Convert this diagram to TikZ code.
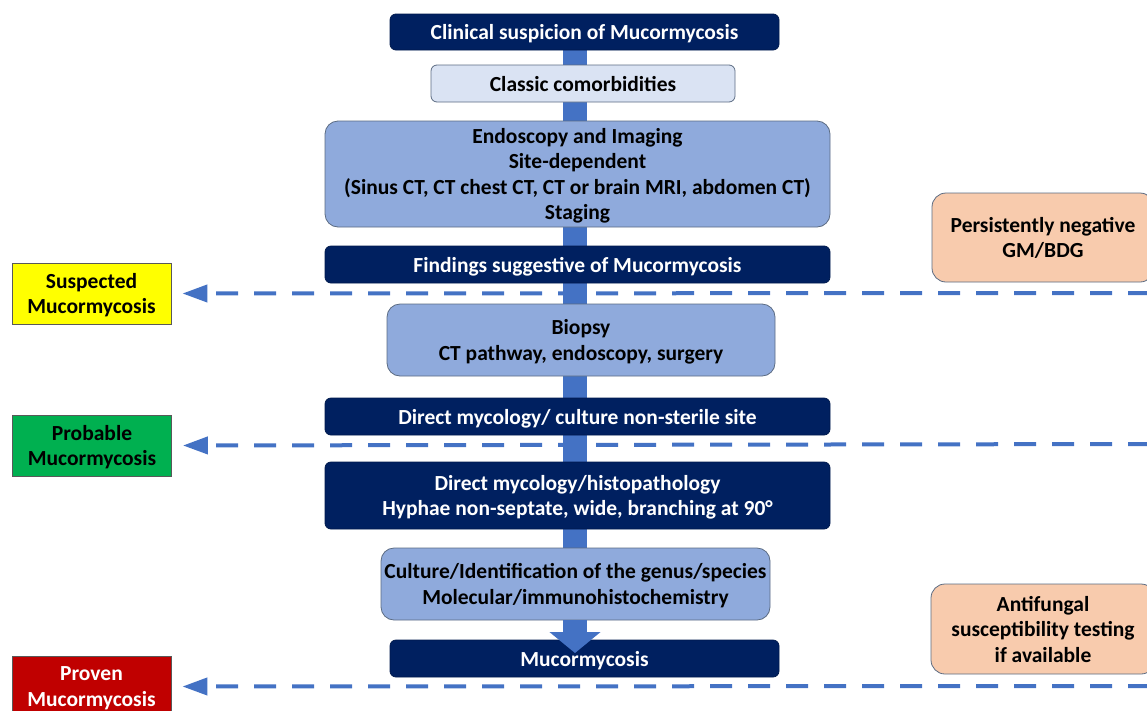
\documentclass[tikz,border=0pt]{standalone}
\usepackage{fontspec}
\setmainfont{Carlito}
\usetikzlibrary{arrows.meta,calc}
\definecolor{navy}{HTML}{002060}
\definecolor{lblue}{HTML}{8FAADC}
\definecolor{pblue}{HTML}{DAE3F3}
\definecolor{barblue}{HTML}{4472C4}
\definecolor{bordgray}{HTML}{5B6B82}
\definecolor{peach}{HTML}{F8CBAD}
\definecolor{ygreen}{HTML}{00B050}
\definecolor{dred}{HTML}{C00000}
\definecolor{yel}{HTML}{FFFF00}
\begin{document}
\begin{tikzpicture}[x=1pt,y=-1pt,
  every node/.style={font=\fontsize{21.5}{25.5}\selectfont\bfseries, align=center, inner sep=0pt, text depth=0pt},
  navybox/.style={fill=navy, draw=navy!80!black, line width=0.8pt, rounded corners=6pt, text=white},
  lightbox/.style={fill=lblue, draw=bordgray, line width=0.8pt, rounded corners=13pt, text=black},
  palebox/.style={fill=pblue, draw=bordgray, line width=0.8pt, rounded corners=6pt, text=black},
  peachbox/.style={fill=peach, draw=bordgray, line width=0.8pt, rounded corners=14pt, text=black},
  catbox/.style={draw=black!65, line width=0.8pt, minimum width=159pt, minimum height=61pt},
  dashline/.style={draw=barblue, line width=4pt, dash pattern=on 22pt off 16pt, shorten >=11pt, -{Triangle[length=25pt,width=17pt]}},
  bar/.style={draw=barblue, line width=24pt}
]
\useasboundingbox (0,0) rectangle (1147,710);
\begin{scope}
\clip (0,0) rectangle (1147,710);
% coordinates
\coordinate (bartop) at (575,50);
\coordinate (barbot) at (575,620);
\coordinate (tip) at (575,653);
\coordinate (r1) at (1150,293);
\coordinate (r2) at (1150,444);
\coordinate (r3) at (1150,686);
% left category boxes
\node[catbox, fill=yel, text=black] (susp) at (91.5,293.5) {Suspected\\Mucormycosis};
\node[catbox, fill=ygreen, text=black] (prob) at (92,445.5) {Probable\\Mucormycosis};
\node[catbox, fill=dred, text=white] (prov) at (91.5,686.5) {Proven\\Mucormycosis};
% dashed lines
\draw[dashline] (r1) -- (susp.east);
\draw[dashline] (r2) -- (prob.east);
\draw[dashline] (r3) -- (prov.east);
% central bar
\draw[bar] (bartop) -- (barbot);
% main nodes
\node[navybox, minimum width=389pt, minimum height=36pt] (title) at (584.5,32) {Clinical suspicion of Mucormycosis};
\node[palebox, minimum width=304pt, minimum height=37pt] (comorb) at (583,83.5) {Classic comorbidities};
\node[lightbox, minimum width=505pt, minimum height=106pt] (endo) at (577.5,174) {Endoscopy and Imaging\\Site-dependent\\(Sinus CT, CT chest CT, CT or brain MRI, abdomen CT)\\Staging};
\node[navybox, minimum width=505pt, minimum height=37pt] (find) at (577.5,264.5) {Findings suggestive of Mucormycosis};
\node[lightbox, minimum width=388pt, minimum height=72pt] (biopsy) at (581,340) {Biopsy\\CT pathway, endoscopy, surgery};
\node[navybox, minimum width=505pt, minimum height=37pt] (direct) at (577.5,416.5) {Direct mycology/ culture non-sterile site};
\node[navybox, minimum width=505pt, minimum height=67pt] (histo) at (577.5,495.5) {Direct mycology/histopathology\\Hyphae non-septate, wide, branching at 90°};
\node[lightbox, minimum width=389pt, minimum height=72pt] (culture) at (575.5,584) {Culture/Identification of the genus/species\\Molecular/immunohistochemistry};
\node[navybox, minimum width=389pt, minimum height=37pt] (muco) at (584.5,658.5) {Mucormycosis};
% arrow head into final box
\draw[draw=barblue, line width=24pt, -{Triangle[length=21pt,width=50pt]}] (barbot) -- (tip);
% right boxes
\node[peachbox, minimum width=222pt, minimum height=89pt] (neg) at (1043,237.5) {Persistently negative\\GM/BDG};
\node[peachbox, minimum width=224pt, minimum height=90pt] (anti) at (1043,629) {Antifungal\\susceptibility testing\\if available};
\end{scope}
\end{tikzpicture}
\end{document}
